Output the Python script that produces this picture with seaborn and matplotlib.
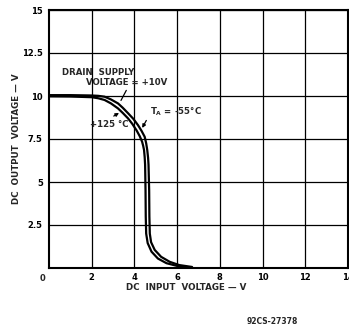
import matplotlib
matplotlib.use("Agg")
import matplotlib.pyplot as plt
import seaborn as sns
import pandas as pd

# ---- data ----
x_hot = [0, 1, 2, 2.3, 2.6, 2.9, 3.23, 3.45, 3.7, 3.9, 4.1, 4.25, 4.36, 4.41, 4.45, 4.48, 4.5, 4.52, 4.53, 4.55, 4.62, 4.8, 5.1, 5.5, 6.0, 6.5]
y_hot = [9.98, 9.97, 9.93, 9.87, 9.77, 9.57, 9.28, 9.02, 8.7, 8.38, 8.0, 7.66, 7.34, 7.1, 6.86, 6.45, 6.0, 4.5, 3.0, 2.0, 1.45, 0.95, 0.55, 0.28, 0.12, 0.04]
x_cold = [0, 1, 2, 2.3, 2.6, 2.9, 3.23, 3.45, 3.7, 3.95, 4.17, 4.33, 4.48, 4.55, 4.6, 4.64, 4.66, 4.69, 4.7, 4.72, 4.78, 4.95, 5.25, 5.65, 6.1, 6.7]
y_cold = [10.05, 10.05, 10.03, 10.01, 9.96, 9.8, 9.57, 9.32, 9.0, 8.67, 8.3, 7.98, 7.63, 7.25, 6.86, 6.4, 6.0, 4.5, 3.0, 2.0, 1.5, 1.05, 0.65, 0.36, 0.17, 0.06]
labels_series = ["+125 °C", "-55 °C"]

x_ticks = [2, 4, 6, 8, 10, 12, 14]
x_ticklabels = ["2", "4", "6", "8", "10", "12", "14"]
y_ticks = [2.5, 5, 7.5, 10, 12.5, 15]
y_ticklabels = ["2.5", "5", "7.5", "10", "12.5", "15"]

df = pd.concat([
    pd.DataFrame({"x": x_hot, "y": y_hot, "s": labels_series[0]}),
    pd.DataFrame({"x": x_cold, "y": y_cold, "s": labels_series[1]}),
])

sns.set_theme(style="white")
plt.rcParams["font.family"] = ["DejaVu Sans"]

fig = plt.figure(figsize=(3.49, 3.29), dpi=100)
ax = fig.add_axes([49/349, 1 - 268/329, (348 - 49)/349, (268 - 10)/329])

sns.lineplot(data=df, x="x", y="y", hue="s", units="s", estimator=None, sort=False,
             palette=["black", "black"], linewidth=1.6, legend=False, ax=ax)
for ln in ax.lines:
    ln.set_solid_joinstyle("round")

ax.set_xlim(0, 14)
ax.set_ylim(0, 15)
ax.set_xticks(x_ticks)
ax.set_xticklabels(x_ticklabels)
ax.set_yticks(y_ticks)
ax.set_yticklabels(y_ticklabels)
ax.tick_params(axis="both", length=0, labelsize=6, labelcolor="black")
ax.tick_params(axis="x", pad=3.5)
ax.tick_params(axis="y", pad=4.5)
for lab in ax.get_xticklabels() + ax.get_yticklabels():
    lab.set_fontweight("bold")

ax.grid(True, color="black", linewidth=0.9)
for sp in ax.spines.values():
    sp.set_color("black")
    sp.set_linewidth(1.5)

ax.set_xlabel("")
ax.set_ylabel("")

# corner zero
ax.annotate("0", xy=(0, 0), xytext=(-4.5, -7.5), textcoords="offset points",
            ha="center", va="center", fontsize=6, fontweight="bold")

fig.text(186/349, 1 - 288/329, "DC  INPUT  VOLTAGE — V", ha="center", va="center",
         fontsize=6.3, fontweight="bold")
fig.text(17/349, 1 - 139/329, "DC  OUTPUT  VOLTAGE — V", ha="center", va="center",
         rotation=90, fontsize=6.3, fontweight="bold")
fig.text(272/349, 1 - 322/329, "92CS-27378", ha="center", va="center",
         fontsize=5.5, fontweight="bold")

# annotations
tk = dict(fontsize=6.2, fontweight="bold", va="center", ha="left")
ax.text(0.61, 11.34, "DRAIN  SUPPLY", **tk)
ax.text(1.72, 10.76, "VOLTAGE = +10V", **tk)
ax.text(1.91, 8.37, "+125 °C", **tk)
ax.text(4.71, 9.07, "T$_\\mathregular{A}$ = -55°C", **tk)

ap = dict(arrowstyle="-|>", color="black", lw=0.9, mutation_scale=5)
ax.annotate("", xy=(3.39, 9.1), xytext=(2.92, 8.75), arrowprops=ap)
ax.annotate("", xy=(3.31, 9.6), xytext=(3.68, 10.47), arrowprops=dict(arrowstyle="-", color="black", lw=0.9))
ax.annotate("", xy=(4.3, 8.0), xytext=(4.62, 8.72), arrowprops=ap)

fig.savefig("out.png", dpi=100, facecolor="white")
